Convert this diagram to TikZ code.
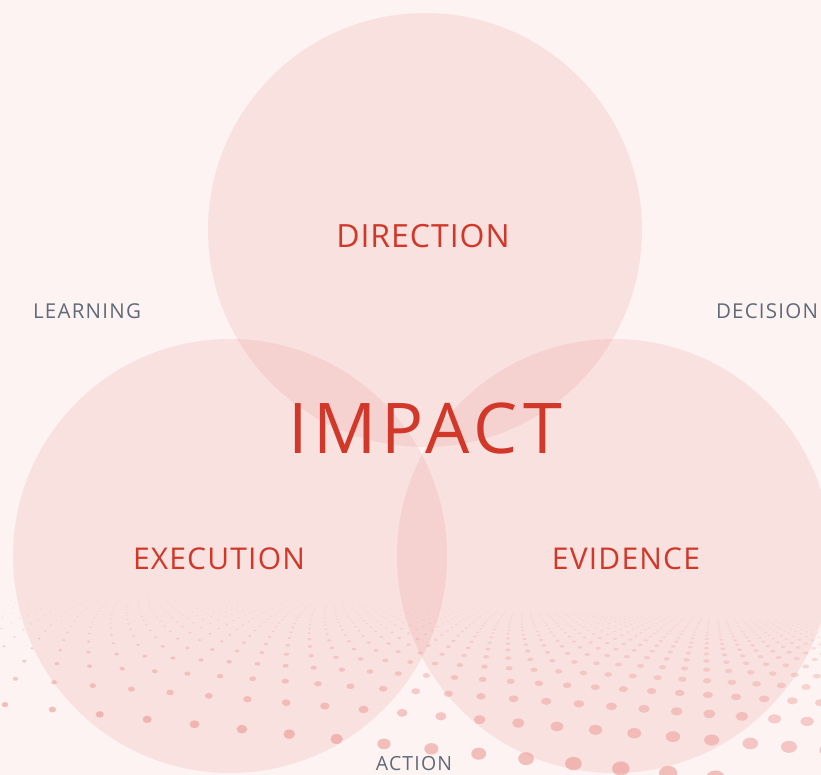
\documentclass[tikz,border=0pt]{standalone}
\usepackage{fontspec}
\setmainfont{Open Sans}
\definecolor{bgc}{RGB}{252,243,242}
\definecolor{circc}{RGB}{235,145,140}
\definecolor{dotc}{RGB}{236,150,145}
\definecolor{redt}{RGB}{209,56,42}
\definecolor{grayt}{RGB}{96,106,120}
\tikzset{
  venn/.style={fill=circc,fill opacity=0.18},
  bigword/.style={text=redt,anchor=base,inner sep=0pt},
  smallword/.style={text=grayt,anchor=base,inner sep=0pt},
  dotmark/.style={fill=dotc}
}
\begin{document}
\begin{tikzpicture}[x=1pt,y=-1pt]
\fill[bgc] (0,0) rectangle (821,775);
\useasboundingbox (0,0) rectangle (821,775);
\begin{scope}
\clip (0,0) rectangle (821,775);
% halftone perspective dots
\foreach \zi in {0,...,20}{
  \pgfmathsetmacro\Z{0.95+0.25*\zi*(1+0.04*\zi)}
  \pgfmathtruncatemacro\kmax{min(920*\Z/45,160)}
  \pgfmathsetmacro\yy{605+175/\Z}
  \pgfmathsetmacro\op{0.55/(\Z^0.6)}
  \foreach \k in {0,...,\kmax}{
    \pgfmathsetmacro\xx{905-45*\k/\Z*(1+0.04*\zi)}
    \pgfmathsetmacro\sc{0.3+0.7*max(0,\xx)/821}
    \pgfmathsetmacro\ww{10*\sc/\Z}
    \pgfmathsetmacro\hh{8*\sc/(\Z^1.35)}
    \pgfmathsetmacro\ycur{\yy-0.10*(821-\xx)*(0.3+0.7/\Z)}
    \fill[dotmark,fill opacity=\op] (\xx,\ycur) ellipse[x radius=\ww,y radius=\hh];
  }
}
\end{scope}
\fill[venn] (425,230) circle[radius=217];
\fill[venn] (230,556) circle[radius=217];
\fill[venn] (614,556) circle[radius=217];
\node[bigword,font=\fontsize{32}{36}\selectfont\addfontfeatures{LetterSpace=3}] (direction) at (423,248) {DIRECTION};
\node[bigword,font=\fontsize{30}{34}\selectfont\addfontfeatures{LetterSpace=4}] (execution) at (219,569) {EXECUTION};
\node[bigword,font=\fontsize{30}{34}\selectfont\addfontfeatures{LetterSpace=4}] (evidence) at (626,569) {EVIDENCE};
\node[bigword,font=\fontsize{70}{80}\selectfont\addfontfeatures{LetterSpace=7.5}] (impact) at (425,453) {IMPACT};
\node[smallword,font=\fontsize{20.5}{24}\selectfont\addfontfeatures{LetterSpace=6}] (learning) at (87,319) {LEARNING};
\node[smallword,font=\fontsize{20.5}{24}\selectfont\addfontfeatures{LetterSpace=6}] (decision) at (767,319) {DECISION};
\node[smallword,font=\fontsize{19.5}{24}\selectfont\addfontfeatures{LetterSpace=6}] (action) at (414,770) {ACTION};
\end{tikzpicture}
\end{document}
